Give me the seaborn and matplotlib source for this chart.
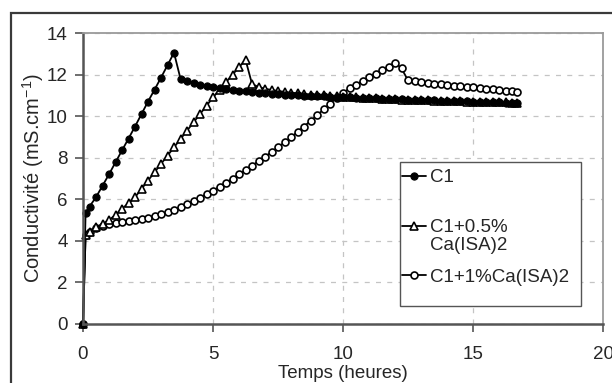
import matplotlib
matplotlib.use("Agg")
import matplotlib.pyplot as plt
import seaborn as sns
import pandas as pd
from matplotlib.patches import Rectangle

# ---------------- data ----------------
temps = [0, 0.1, 0.25, 0.5, 0.75, 1.0, 1.25, 1.5, 1.75, 2.0, 2.25, 2.5, 2.75, 3.0,
         3.25, 3.5, 3.75, 4.0, 4.25, 4.5, 4.75, 5.0, 5.25, 5.5, 5.75, 6.0, 6.25,
         6.5, 6.75, 7.0, 7.25, 7.5, 7.75, 8.0, 8.25, 8.5, 8.75, 9.0, 9.25, 9.5,
         9.75, 10.0, 10.25, 10.5, 10.75, 11.0, 11.25, 11.5, 11.75, 12.0, 12.25,
         12.5, 12.75, 13.0, 13.25, 13.5, 13.75, 14.0, 14.25, 14.5, 14.75, 15.0,
         15.25, 15.5, 15.75, 16.0, 16.25, 16.5, 16.7]

c1 = [0, 5.35, 5.65, 6.1, 6.65, 7.2, 7.78, 8.35, 8.92, 9.5, 10.1, 10.7, 11.27, 11.85,
      12.45, 13.05, 11.8, 11.7, 11.6, 11.52, 11.45, 11.4, 11.35, 11.3, 11.26, 11.22,
      11.19, 11.16, 11.13, 11.1, 11.08, 11.06, 11.04, 11.02, 11.0, 10.99, 10.97,
      10.96, 10.95, 10.93, 10.92, 10.91, 10.9, 10.88, 10.87, 10.86, 10.85, 10.84,
      10.83, 10.82, 10.81, 10.8, 10.79, 10.78, 10.77, 10.76, 10.75, 10.74, 10.73,
      10.72, 10.71, 10.7, 10.69, 10.68, 10.67, 10.66, 10.65, 10.64, 10.63]

c1_05 = [0, 4.3, 4.45, 4.65, 4.82, 5.0, 5.25, 5.55, 5.8, 6.1, 6.5, 6.9, 7.3, 7.7,
         8.1, 8.5, 8.9, 9.3, 9.7, 10.1, 10.5, 10.9, 11.27, 11.63, 12.0, 12.35, 12.72,
         11.55, 11.4, 11.32, 11.26, 11.21, 11.17, 11.13, 11.1, 11.07, 11.04, 11.02,
         11.0, 10.98, 10.96, 10.94, 10.92, 10.9, 10.88, 10.87, 10.85, 10.84, 10.83,
         10.82, 10.8, 10.79, 10.78, 10.77, 10.76, 10.75, 10.74, 10.73, 10.72, 10.71,
         10.7, 10.69, 10.69, 10.68, 10.67, 10.66, 10.66, 10.65, 10.65]

c1_1 = [0, 4.3, 4.45, 4.6, 4.72, 4.8, 4.86, 4.91, 4.96, 5.0, 5.06, 5.12, 5.2, 5.28,
        5.38, 5.5, 5.63, 5.77, 5.92, 6.08, 6.25, 6.42, 6.6, 6.8, 7.0, 7.2, 7.4, 7.62,
        7.83, 8.05, 8.27, 8.5, 8.74, 8.98, 9.24, 9.5, 9.77, 10.04, 10.32, 10.6, 10.87,
        11.12, 11.33, 11.52, 11.7, 11.87, 12.03, 12.2, 12.37, 12.58, 12.3, 11.72,
        11.68, 11.64, 11.6, 11.57, 11.54, 11.5, 11.47, 11.44, 11.41, 11.38, 11.35,
        11.32, 11.29, 11.26, 11.23, 11.2, 11.18]

labels = ["C1", "C1+0.5%", "C1+1%Ca(ISA)2"]
label_second_line = "Ca(ISA)2"
x_ticks = [0, 5, 10, 15, 20]
y_ticks = [0, 2, 4, 6, 8, 10, 12, 14]

# ---------------- style ----------------
sns.set_theme(style="white")
plt.rcParams["font.family"] = ["Liberation Sans", "DejaVu Sans"]
plt.rcParams["mathtext.fontset"] = "custom"
plt.rcParams["mathtext.rm"] = "Liberation Sans"
plt.rcParams["mathtext.it"] = "Liberation Sans"

FS = 13.5

fig = plt.figure(figsize=(6.12, 3.83), dpi=100)
W, H = 612, 383
AX_L, AX_R, AX_T, AX_B = 83, 603, 33, 324
AW, AH = AX_R - AX_L, AX_B - AX_T
ax = fig.add_axes([AX_L / W, (H - AX_B) / H, AW / W, AH / H])


def ax_x(px):
    return (px - AX_L) / AW


def ax_y(py):
    return (AX_B - py) / AH


# outer chart frame (extends beyond the right and bottom edges)
fig.patches.append(Rectangle((11 / W, -0.1), 1.2, (H - 12.5) / H + 0.1,
                             transform=fig.transFigure, fill=False,
                             edgecolor="#3a3a3a", linewidth=1.6, clip_on=False))

df = pd.DataFrame({"t": temps, "c1": c1, "c05": c1_05, "c10": c1_1})

# draw 1% first, C1 last (C1 on top as in the reference)
sns.lineplot(data=df, x="t", y="c10", ax=ax, color="black", linewidth=1.3,
             marker="o", markersize=5, markerfacecolor="white",
             markeredgecolor="black", markeredgewidth=1.2, label=labels[2],
             clip_on=False)
sns.lineplot(data=df, x="t", y="c05", ax=ax, color="black", linewidth=1.3,
             marker="^", markersize=6, markerfacecolor="white",
             markeredgecolor="black", markeredgewidth=1.2, label=labels[1],
             clip_on=False)
sns.lineplot(data=df, x="t", y="c1", ax=ax, color="black", linewidth=1.3,
             marker="o", markersize=5.2, markerfacecolor="black",
             markeredgecolor="black", label=labels[0], clip_on=False)

ax.set_xlim(0, 20)
ax.set_ylim(0, 14)
ax.set_xticks(x_ticks)
ax.set_yticks(y_ticks)
ax.set_xticklabels([str(v) for v in x_ticks], fontsize=FS)
ax.set_yticklabels([str(v) for v in y_ticks], fontsize=FS)
ax.tick_params(axis="x", direction="out", length=6, width=1.2, color="#555555",
               pad=10, bottom=True)
ax.tick_params(axis="y", direction="out", length=6, width=1.2, color="#555555",
               pad=5, left=True)

ax.grid(True, which="major", linestyle=(0, (4, 5)), color="#c4c4c4", linewidth=0.9)
ax.set_axisbelow(True)

for side in ["left", "bottom"]:
    ax.spines[side].set_color("#555555")
    ax.spines[side].set_linewidth(1.8)
for side in ["top", "right"]:
    ax.spines[side].set_color("#9a9a9a")
    ax.spines[side].set_linewidth(1.3)

ax.set_xlabel("Temps (heures)", fontsize=FS)
ax.set_ylabel(r"Conductivité (mS.cm$^{\mathregular{-1}}$)", fontsize=14.5)
ax.xaxis.set_label_coords(0.5, -(365 - AX_B) / AH)
ax.yaxis.set_label_coords(-(AX_L - 46) / AW, 0.5)

# legend box drawn by hand (reference has extra space under the last entry)
ax.add_patch(Rectangle((ax_x(400), ax_y(306)), ax_x(581) - ax_x(400),
                       ax_y(162) - ax_y(306), transform=ax.transAxes,
                       facecolor="white", edgecolor="#555555", linewidth=1.0,
                       zorder=5, clip_on=False))
h, l = ax.get_legend_handles_labels()
order = [l.index(lab) for lab in labels]
leg = ax.legend([h[i] for i in order], [l[i] for i in order],
                loc="upper left", bbox_to_anchor=(ax_x(402), ax_y(169)),
                fontsize=FS, frameon=False, handlelength=1.3, handletextpad=0.2,
                labelspacing=1.75, borderpad=0, borderaxespad=0)
leg.set_zorder(6)

fig.canvas.draw()
renderer = fig.canvas.get_renderer()
bb = leg.get_texts()[1].get_window_extent(renderer)
x0, y0 = fig.transFigure.inverted().transform((bb.x0, bb.y0))
fig.text(x0, y0 - 1 / H, label_second_line, fontsize=FS, ha="left", va="top",
         zorder=7)

fig.savefig("out.png", dpi=100)
